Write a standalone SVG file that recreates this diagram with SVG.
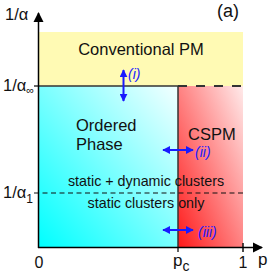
<svg xmlns="http://www.w3.org/2000/svg" width="270" height="273" viewBox="0 0 270 273">
<defs>
<linearGradient id="gc" x1="0" y1="1" x2="1" y2="0">
<stop offset="0" stop-color="#00ffff"/>
<stop offset="1" stop-color="#f4ffff"/>
</linearGradient>
<linearGradient id="gr" x1="0" y1="1" x2="1" y2="0">
<stop offset="0" stop-color="#ff1a1a"/>
<stop offset="1" stop-color="#ffeaea"/>
</linearGradient>
<marker id="ab" viewBox="0 0 10 10" refX="9" refY="5" markerWidth="4" markerHeight="4" orient="auto-start-reverse" markerUnits="strokeWidth">
<path d="M0,0 L10,5 L0,10 z" fill="#1a1aff"/>
</marker>
<marker id="ak" viewBox="0 0 10 10" refX="9" refY="5" markerWidth="7" markerHeight="7" orient="auto" markerUnits="strokeWidth">
<path d="M0,0 L10,5 L0,10 z" fill="#000"/>
</marker>
</defs>
<style>
text{font-family:"Liberation Sans",Arial,sans-serif;fill:#111}
.lbl{font-size:16.5px}
.big{font-size:18px}
.ax{font-size:16px}
.axp{font-size:17px}
.cl{font-size:14.3px}
.bl{font-size:14px;font-style:italic;fill:#1a1aff}
.barr{stroke:#1a1aff;stroke-width:2;fill:none;marker-start:url(#ab);marker-end:url(#ab)}
</style>
<g id="regions">
<rect id="pm" x="39" y="32" width="204" height="54" fill="#fffab4"/>
<rect id="ordered" x="39" y="86" width="139" height="161" fill="url(#gc)"/>
<rect id="cspm" x="178" y="86" width="65" height="161" fill="url(#gr)"/>
</g>
<g id="connectors">
<line x1="34" y1="86" x2="178" y2="86" stroke="#333" stroke-width="1.5"/>
<line x1="178" y1="86" x2="243" y2="86" stroke="#333" stroke-width="1.8" stroke-dasharray="9 9"/>
<line x1="178" y1="86" x2="178" y2="252" stroke="#333" stroke-width="1.5"/>
<line x1="34" y1="193" x2="243" y2="193" stroke="#111" stroke-width="1.2" stroke-dasharray="5 3.5"/>
<line x1="243" y1="243" x2="243" y2="252" stroke="#111" stroke-width="1.5"/>
<line x1="38.5" y1="248" x2="38.5" y2="13" stroke="#000" stroke-width="1.5" marker-end="url(#ak)"/>
<line x1="38" y1="247.5" x2="262" y2="247.5" stroke="#000" stroke-width="1.5" marker-end="url(#ak)"/>
<line class="barr" x1="123.5" y1="70" x2="123.5" y2="101"/>
<line class="barr" x1="163" y1="150" x2="193" y2="150"/>
<line class="barr" x1="163" y1="230" x2="193" y2="230"/>
</g>
<g id="labels">
<text class="lbl" x="5" y="20">1/α</text>
<text class="big" x="217" y="17">(a)</text>
<text class="lbl" x="3" y="91">1/α<tspan font-size="11" dy="3">∞</tspan></text>
<text class="lbl" x="3" y="198">1/α<tspan font-size="12" dy="5">1</tspan></text>
<text class="lbl" x="141" y="55" text-anchor="middle">Conventional PM</text>
<text class="lbl" x="76" y="131">Ordered</text>
<text class="lbl" x="76" y="150">Phase</text>
<text class="lbl" x="188" y="140">CSPM</text>
<text class="cl" x="146" y="186" text-anchor="middle">static + dynamic clusters</text>
<text class="cl" x="146" y="208" text-anchor="middle">static clusters only</text>
<text class="bl" x="128" y="79">(i)</text>
<text class="bl" x="195" y="157">(ii)</text>
<text class="bl" x="198" y="237">(iii)</text>
<text class="ax" x="39" y="268" text-anchor="middle">0</text>
<text class="axp" x="173" y="266">p<tspan font-size="14" dy="5">c</tspan></text>
<text class="ax" x="243" y="268" text-anchor="middle">1</text>
<text class="axp" x="258" y="265">p</text>
</g>
</svg>
